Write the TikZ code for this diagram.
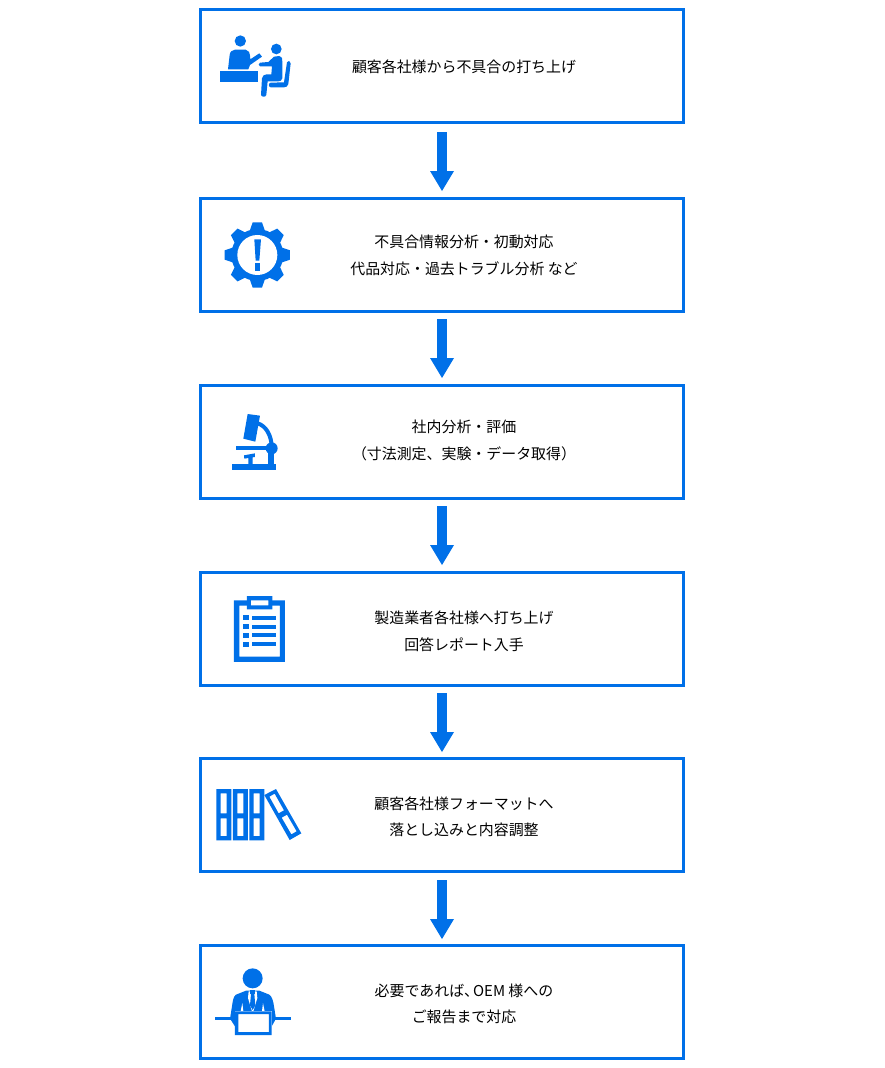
\documentclass[tikz,border=0pt]{standalone}
\usepackage{fontspec}
\setmainfont{Noto Sans CJK JP}
\usetikzlibrary{arrows.meta}
\definecolor{brandblue}{RGB}{0,112,232}
\tikzset{
  stepbox/.style={draw=brandblue,line width=3pt,minimum width=483pt,minimum height=113pt,outer sep=0pt,inner sep=0pt,fill=white},
  steptext/.style={font=\fontsize{14.93pt}{26.5pt}\selectfont,align=center,text=black,inner sep=0pt},
  flowarrow/.style={draw=brandblue,line width=10pt,-{Triangle[length=20pt,width=24pt,line width=0pt]}},
  icon/.style={x=0.3333pt,y=-0.3333pt},
  ic/.style={fill=brandblue,draw=none},
  wh/.style={fill=white,draw=none}
}
\begin{document}
\begin{tikzpicture}[x=1pt,y=-1pt]
\useasboundingbox (0,0) rectangle (885,1068);
\node[stepbox] (b1) at (442,65.5) {};
\node[stepbox] (b2) at (442,254.5) {};
\node[stepbox] (b3) at (442,441.5) {};
\node[stepbox] (b4) at (442,628.5) {};
\node[stepbox] (b5) at (442,814.5) {};
\node[stepbox] (b6) at (442,1001.5) {};
\foreach \a/\b/\s/\e in {b1/b2/10/7,b2/b3/8/7,b3/b4/8/7,b4/b5/8/6,b5/b6/9/6}
  \draw[flowarrow,shorten <=\s pt,shorten >=\e pt] (\a.south) -- (\b.north);

\node[steptext] (t1) at (464,67) {顧客各社様から不具合の打ち上げ};
\node[steptext] (t2) at (464,255.5) {不具合情報分析・初動対応\\代品対応・過去トラブル分析 など};
\node[steptext] (t3) at (464,440.5) {社内分析・評価\\（寸法測定、実験・データ取得）};
\node[steptext] (t4) at (464,631.5) {製造業者各社様へ打ち上げ\\回答レポート入手};
\node[steptext] (t5) at (464,817) {顧客各社様フォーマットへ\\落とし込みと内容調整};
\node[steptext] (t6) at (464,1004) {必要であれば、\kern-0.4em OEM 様への\\ご報告まで対応};

% consultation icon
\begin{scope}[shift={(200,10)},icon]
\fill[ic] (121,93) circle (17);
\fill[ic] (84,178) -- (89,135) .. controls (90,125) and (96,120) .. (105,119) -- (137,119) .. controls (146,120) and (150,126) .. (151,148) -- (178,130) -- (186,140) -- (150,165) -- (145,178) -- cycle;
\fill[ic] (60,183) rectangle (175,217);
\fill[ic] (229,117) circle (16);
\fill[ic] (180,158) -- (205,156) -- (222,140) -- (238,138) .. controls (246,139) and (248,146) .. (247,155) -- (247,205) .. controls (246,212) and (240,214) .. (235,214) -- (203,214) -- (199,255) .. controls (197,262) and (185,262) .. (183,255) -- (186,205) .. controls (187,197) and (192,194) .. (200,193) -- (214,193) -- (216,169) -- (180,169) .. controls (175,168) and (175,160) .. (180,158) -- cycle;
\fill[ic] (261,157) .. controls (262,150) and (273,152) .. (272,160) -- (265,222) .. controls (264,229) and (258,232) .. (252,232) -- (212,232) .. controls (205,231) and (205,219) .. (212,218) -- (252,217) -- cycle;
\end{scope}

% gear icon
\begin{scope}[shift={(200,200)},icon]
\fill[ic] (172,165) circle (78);
\foreach \r in {0,45,...,315}
  \fill[ic,rotate around={\r:(172,165)}] (145,105) -- (158,67) -- (186,67) -- (199,105) -- cycle;
\fill[wh] (172,165) circle (60);
\fill[ic] (163,118) -- (183,118) -- (178,182) -- (167,182) -- cycle;
\fill[ic] (166,190) rectangle (180,212);
\end{scope}

% microscope icon
\begin{scope}[shift={(200,390)},icon]
\fill[ic] (143,72) -- (180,77) -- (166,155) -- (130,146) -- cycle;
\draw[brandblue,line width=4pt] (173,100) .. controls (198,108) and (214,135) .. (215,170);
\fill[ic] (97,221) rectangle (229,241);
\fill[ic] (205,175) rectangle (221,225);
\fill[ic] (215,175) circle (18);
\fill[ic] (108,169) rectangle (215,181);
\fill[ic] (132,196) -- (165,190) -- (165,201) -- (158,202) -- (158,225) -- (145,225) -- (145,204) -- (133,206) -- cycle;
\end{scope}

% clipboard icon
\begin{scope}[shift={(200,575)},icon]
\fill[ic,even odd rule] (102,76) rectangle (255,261) (118,92) rectangle (240,245);
\fill[wh] (141,63) rectangle (217,103);
\fill[ic,even odd rule] (141,63) rectangle (217,103) (153,76) rectangle (205,91);
\foreach \y in {121,148,174,201} {
  \fill[ic] (130,\y) rectangle (146,\y+15);
  \fill[ic] (156,\y+1) rectangle (228,\y+13);
}
\end{scope}

% binders icon
\begin{scope}[shift={(200,760)},icon]
\foreach \x in {49,99,148} {
  \fill[ic,even odd rule] (\x,87) rectangle (\x+45,241) (\x+13,100) rectangle (\x+31,160) (\x+13,175) rectangle (\x+31,228);
}
\fill[ic,even odd rule] (193,105) -- (228,87) -- (304,220) -- (269,240) -- cycle
  (208,110) -- (224,101) -- (252,151) -- (236,160) -- cycle
  (245,173) -- (261,164) -- (290,214) -- (274,223) -- cycle;
\end{scope}

% person at desk icon
\begin{scope}[shift={(200,948)},icon]
\fill[ic] (158,91) circle (30);
\fill[ic] (46,208) rectangle (272,216);
\fill[ic] (138,128) -- (108,140) .. controls (100,145) and (98,160) .. (96,175) -- (90,212) -- (105,235) -- (215,235) -- (228,212) -- (222,175) .. controls (220,160) and (216,145) .. (208,140) -- (178,128) -- cycle;
\fill[wh] (146,130) -- (170,130) -- (172,150) -- (160,190) -- (156,190) -- (144,150) -- cycle;
\fill[wh] (122,190) -- (127,165) -- (130,190) -- cycle;
\fill[wh] (194,190) -- (189,165) -- (186,190) -- cycle;
\fill[ic] (151,127) rectangle (165,138);
\fill[ic] (153,138) -- (163,138) -- (166,172) -- (158,186) -- (150,172) -- cycle;
\fill[wh] (105,190) rectangle (215,261);
\fill[ic,even odd rule] (105,190) rectangle (215,261) (115,198) rectangle (207,252);
\end{scope}
\end{tikzpicture}
\end{document}
